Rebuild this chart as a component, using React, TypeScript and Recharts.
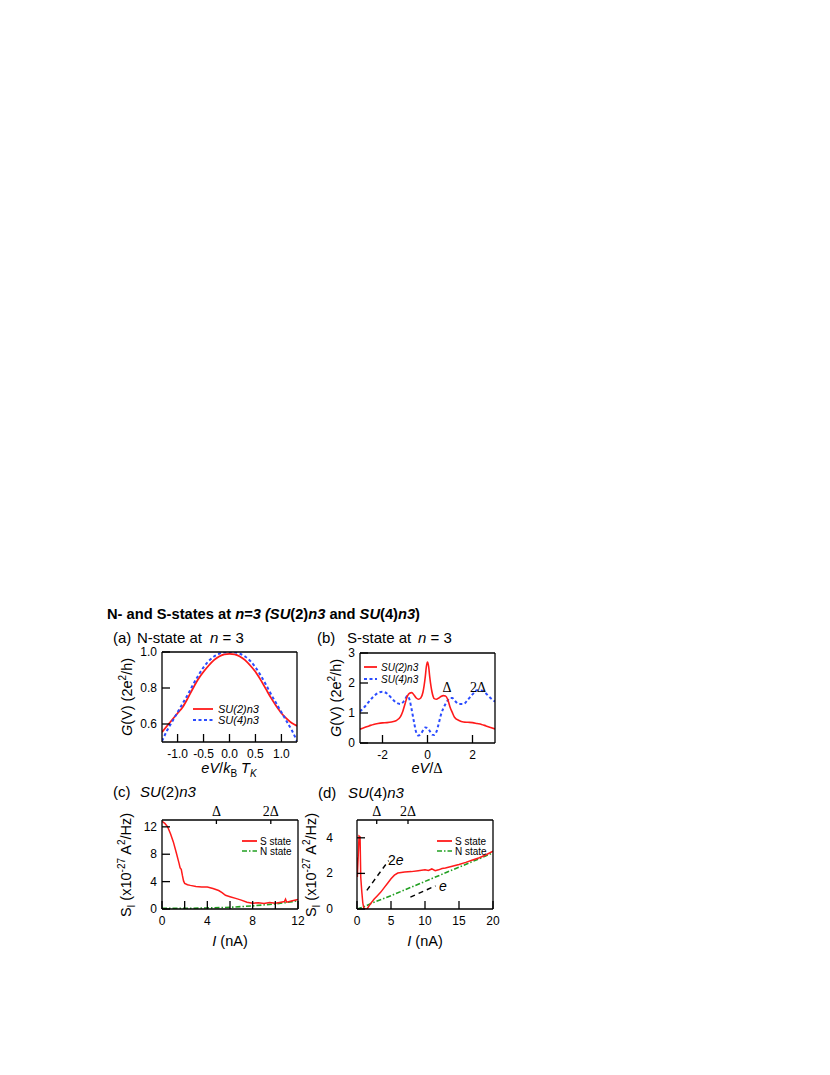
import React from 'react';
import { LineChart, Line, XAxis, YAxis } from 'recharts';

const SANS = '"Liberation Sans", Arial, Helvetica, sans-serif';
const SERIF = '"Liberation Serif", "Times New Roman", serif';

const RED = '#ff1a1a';
const BLUE = '#2b4cff';
const GREEN = '#22a022';

// (a) N-state at n = 3
const aX = [-1.3, -1.2, -1.1, -1.0, -0.9, -0.8, -0.7, -0.6, -0.5, -0.4, -0.3, -0.2, -0.1, 0, 0.1, 0.2, 0.3, 0.4, 0.5, 0.6, 0.7, 0.8, 0.9, 1.0, 1.1, 1.2, 1.3];
const aSU2 = [0.555, 0.59, 0.625, 0.66, 0.695, 0.745, 0.8, 0.85, 0.89, 0.925, 0.955, 0.975, 0.987, 0.99, 0.987, 0.975, 0.955, 0.925, 0.89, 0.845, 0.795, 0.745, 0.7, 0.66, 0.63, 0.605, 0.59];
const aSU4 = [0.505, 0.565, 0.615, 0.665, 0.715, 0.765, 0.82, 0.87, 0.915, 0.95, 0.975, 0.99, 0.998, 1.0, 0.998, 0.99, 0.975, 0.95, 0.915, 0.87, 0.82, 0.765, 0.715, 0.665, 0.615, 0.565, 0.505];

// (b) S-state at n = 3
const bRedX = [-3.0, -2.8, -2.6, -2.4, -2.2, -2.0, -1.8, -1.6, -1.4, -1.2, -1.1, -1.0, -0.9, -0.8, -0.7, -0.6, -0.5, -0.4, -0.3, -0.2, -0.1, -0.05, 0, 0.05, 0.1, 0.2, 0.3, 0.4, 0.5, 0.6, 0.7, 0.8, 0.9, 1.0, 1.1, 1.2, 1.4, 1.6, 1.8, 2.0, 2.2, 2.4, 2.6, 2.8, 3.0];
const bRed = [0.46, 0.52, 0.57, 0.62, 0.65, 0.67, 0.68, 0.7, 0.74, 0.88, 1.05, 1.3, 1.55, 1.66, 1.68, 1.6, 1.5, 1.46, 1.5, 1.7, 2.2, 2.55, 2.7, 2.55, 2.2, 1.7, 1.48, 1.46, 1.5, 1.55, 1.58, 1.57, 1.45, 1.2, 1.02, 0.86, 0.75, 0.7, 0.69, 0.68, 0.65, 0.62, 0.57, 0.52, 0.47];
const bBlueX = [-3.0, -2.8, -2.6, -2.4, -2.2, -2.0, -1.8, -1.6, -1.4, -1.2, -1.0, -0.9, -0.8, -0.7, -0.6, -0.5, -0.4, -0.3, -0.2, -0.1, 0, 0.1, 0.2, 0.3, 0.4, 0.5, 0.6, 0.7, 0.8, 0.9, 1.0, 1.1, 1.2, 1.4, 1.6, 1.8, 2.0, 2.2, 2.4, 2.6, 2.8, 3.0];
const bBlue = [1.05, 1.2, 1.38, 1.55, 1.67, 1.71, 1.65, 1.5, 1.35, 1.3, 1.45, 1.57, 1.45, 1.1, 0.7, 0.35, 0.25, 0.3, 0.42, 0.52, 0.5, 0.4, 0.28, 0.27, 0.38, 0.65, 0.95, 1.15, 1.3, 1.42, 1.5, 1.5, 1.42, 1.3, 1.3, 1.45, 1.62, 1.76, 1.75, 1.65, 1.5, 1.38];

// (c) SU(2)n3 noise
const cSX = [0, 0.25, 0.5, 0.75, 1.0, 1.25, 1.5, 1.6, 1.7, 1.8, 1.9, 2.0, 2.25, 2.5, 3.0, 3.5, 4.0, 4.5, 5.0, 5.3, 5.6, 6.0, 6.5, 7.0, 7.5, 8.0, 8.5, 9.0, 9.5, 10.0, 10.5, 10.8, 10.9, 11.0, 11.5, 12.0];
const cS = [12.8, 12.5, 12.0, 11.0, 9.8, 8.3, 6.7, 6.0, 5.8, 4.9, 4.1, 3.75, 3.55, 3.45, 3.3, 3.2, 3.2, 3.0, 2.7, 2.4, 2.0, 1.8, 1.55, 1.3, 1.0, 0.85, 0.9, 0.8, 0.95, 0.85, 1.0, 1.1, 1.45, 1.0, 1.2, 1.4];
const cNX = [0, 2, 4, 6, 8, 10, 11, 12];
const cN = [0.1, 0.1, 0.15, 0.25, 0.45, 0.75, 0.95, 1.2];

// (d) SU(4)n3 noise
const dSX = [0, 0.05, 0.3, 0.45, 0.55, 0.7, 0.85, 1.0, 1.2, 1.5, 2.0, 2.5, 3.0, 3.5, 4.0, 4.5, 5.0, 5.5, 6.0, 6.5, 7.0, 8.0, 9.0, 10.0, 10.5, 11.0, 11.5, 12.0, 12.5, 13.0, 14.0, 15.0, 16.0, 17.0, 18.0, 19.0, 20.0];
const dS = [2.9, 1.8, 4.1, 4.05, 1.8, 1.0, 0.35, 0.05, 0, 0.02, 0.3, 0.55, 0.75, 0.95, 1.2, 1.45, 1.7, 1.9, 2.02, 2.05, 2.08, 2.1, 2.15, 2.2, 2.17, 2.25, 2.15, 2.2, 2.27, 2.3, 2.4, 2.5, 2.62, 2.75, 2.88, 3.05, 3.25];
const dNX = [0, 1, 2, 5, 10, 15, 20];
const dN = [0, 0.12, 0.3, 0.75, 1.55, 2.35, 3.15];
const d2eX = [1.45, 4.65];
const d2e = [1.05, 2.72];
const deX = [7.85, 11.55];
const de = [0.67, 1.3];

// gap markers on the top axis
const cGap = [4.8, 9.6];
const dGap = [2.9, 7.5];
const gapLabels = ['Δ', '2Δ'];

const rows = (xs: number[], ys: number[]) => xs.map((x, i) => ({ x, y: ys[i] }));

const bottomTick = (fmt: (v: number) => string) => (props: any) => {
  const { x, y, payload } = props;
  const label = fmt(payload.value);
  return (
    <g>
      <line x1={x} y1={y} x2={x} y2={y - 8} stroke="#000" strokeWidth={1.3} />
      {label !== '' && (
        <text x={x} y={y + 16} textAnchor="middle" fontSize={12} fontFamily={SANS} fill="#000">
          {label}
        </text>
      )}
    </g>
  );
};

const leftTick = (fmt: (v: number) => string, gap: number) => (props: any) => {
  const { x, y, payload } = props;
  return (
    <g>
      <line x1={x} y1={y} x2={x + 8} y2={y} stroke="#000" strokeWidth={1.3} />
      <text x={x - gap} y={y + 4} textAnchor="end" fontSize={12} fontFamily={SANS} fill="#000">
        {fmt(payload.value)}
      </text>
    </g>
  );
};

const topTick = (ticks: number[]) => (props: any) => {
  const { x, y, payload } = props;
  const i = ticks.indexOf(payload.value);
  return (
    <g>
      <line x1={x} y1={y} x2={x} y2={y + 4} stroke="#000" strokeWidth={1.3} />
      <text x={x} y={y - 4} textAnchor="middle" fontSize={14} fontFamily={SERIF} fill="#000">
        {gapLabels[i]}
      </text>
    </g>
  );
};

interface PanelProps {
  left: number;
  top: number;
  margin: { top: number; right: number; left: number; bottom: number };
  yWidth: number;
  xHeight: number;
  xDomain: [number, number];
  yDomain: [number, number];
  xTicks: number[];
  yTicks: number[];
  fmtX: (v: number) => string;
  fmtY: (v: number) => string;
  yGap?: number;
  gapTicks?: number[];
  children: React.ReactNode;
}

function Panel(p: PanelProps) {
  // invisible series so the frame axes (top / right) get a domain
  const frame = [
    { x: p.xDomain[0], y: p.yDomain[0] },
    { x: p.xDomain[1], y: p.yDomain[1] },
  ];
  return (
    <div style={{ position: 'absolute', left: p.left, top: p.top }}>
      <LineChart width={210} height={150} margin={{ ...p.margin, top: p.margin.top - 1, right: p.margin.right - 1 }}>
        <XAxis
          dataKey="x"
          type="number"
          domain={p.xDomain}
          ticks={p.xTicks}
          interval={0}
          allowDataOverflow
          height={p.xHeight}
          tickSize={0}
          tickMargin={0}
          tickLine={false}
          axisLine={{ stroke: '#000', strokeWidth: 1.3 }}
          tick={bottomTick(p.fmtX)}
        />
        <XAxis
          xAxisId="top"
          orientation="top"
          dataKey="x"
          type="number"
          domain={p.xDomain}
          ticks={p.gapTicks ?? p.xDomain}
          interval={0}
          allowDataOverflow
          height={1}
          mirror
          tickSize={0}
          tickMargin={0}
          tickLine={false}
          axisLine={{ stroke: '#000', strokeWidth: 1.3 }}
          tick={p.gapTicks ? topTick(p.gapTicks) : false}
        />
        <YAxis
          type="number"
          domain={p.yDomain}
          ticks={p.yTicks}
          interval={0}
          allowDataOverflow
          width={p.yWidth}
          tickSize={0}
          tickMargin={0}
          tickLine={false}
          axisLine={{ stroke: '#000', strokeWidth: 1.3 }}
          tick={leftTick(p.fmtY, p.yGap ?? 5)}
        />
        <YAxis
          yAxisId="r"
          orientation="right"
          type="number"
          domain={p.yDomain}
          allowDataOverflow
          width={1}
          mirror
          tick={false}
          tickLine={false}
          axisLine={{ stroke: '#000', strokeWidth: 1.3 }}
        />
        <Line
          xAxisId="top"
          yAxisId="r"
          data={frame}
          dataKey="y"
          stroke="none"
          dot={false}
          activeDot={false}
          isAnimationActive={false}
        />
        {p.children}
      </LineChart>
    </div>
  );
}

const sty = { fontFamily: SANS, fill: '#000' } as const;

function Overlay() {
  return (
    <svg
      width={830}
      height={1075}
      style={{ position: 'absolute', left: 0, top: 0, pointerEvents: 'none' }}
    >
      {/* main title */}
      <text x={107} y={619} fontSize={14.7} fontWeight="bold" {...sty}>
        N- and S-states at <tspan fontStyle="italic">n=3 (SU</tspan>(2)<tspan fontStyle="italic">n3</tspan> and <tspan fontStyle="italic">SU</tspan>(4)<tspan fontStyle="italic">n3</tspan>)
      </text>

      {/* panel headers */}
      <text y={643} fontSize={15} {...sty}>
        <tspan x={113}>(a)</tspan>
        <tspan x={137}>N-state at</tspan>
        <tspan x={210} fontStyle="italic">n</tspan>
        <tspan> = 3</tspan>
      </text>
      <text y={643} fontSize={15} {...sty}>
        <tspan x={317}>(b)</tspan>
        <tspan x={347}>S-state at</tspan>
        <tspan x={418} fontStyle="italic">n</tspan>
        <tspan> = 3</tspan>
      </text>
      <text y={797} fontSize={15} {...sty}>
        <tspan x={113}>(c)</tspan>
        <tspan x={140} fontStyle="italic">SU</tspan>
        <tspan>(2)</tspan>
        <tspan fontStyle="italic">n3</tspan>
      </text>
      <text y={798} fontSize={15} {...sty}>
        <tspan x={318}>(d)</tspan>
        <tspan x={348} fontStyle="italic">SU</tspan>
        <tspan>(4)</tspan>
        <tspan fontStyle="italic">n3</tspan>
      </text>

      {/* y axis titles */}
      <text transform="translate(132,697) rotate(-90)" textAnchor="middle" fontSize={14.5} {...sty}>
        <tspan fontStyle="italic">G</tspan>(V) (2e<tspan dy={-6} fontSize={10}>2</tspan><tspan dy={6}>/h)</tspan>
      </text>
      <text transform="translate(341,698) rotate(-90)" textAnchor="middle" fontSize={14.5} {...sty}>
        <tspan fontStyle="italic">G</tspan>(V) (2e<tspan dy={-6} fontSize={10}>2</tspan><tspan dy={6}>/h)</tspan>
      </text>
      <text transform="translate(131,865) rotate(-90)" textAnchor="middle" fontSize={14.5} {...sty}>
        S<tspan dy={4} fontSize={10}>I</tspan><tspan dy={-4}> (x10</tspan><tspan dy={-6} fontSize={10}>-27</tspan><tspan dy={6}> A</tspan><tspan dy={-6} fontSize={10}>2</tspan><tspan dy={6}>/Hz)</tspan>
      </text>
      <text transform="translate(316,865) rotate(-90)" textAnchor="middle" fontSize={14.5} {...sty}>
        S<tspan dy={4} fontSize={10}>I</tspan><tspan dy={-4}> (x10</tspan><tspan dy={-6} fontSize={10}>-27</tspan><tspan dy={6}> A</tspan><tspan dy={-6} fontSize={10}>2</tspan><tspan dy={6}>/Hz)</tspan>
      </text>

      {/* x axis titles */}
      <text x={229} y={773} textAnchor="middle" fontSize={14.5} {...sty}>
        <tspan fontStyle="italic">eV</tspan>/<tspan fontStyle="italic">k</tspan><tspan dy={4} fontSize={10}>B</tspan><tspan dy={-4}> </tspan><tspan fontStyle="italic">T</tspan><tspan dy={4} fontSize={10} fontStyle="italic">K</tspan>
      </text>
      <text x={427} y={773} textAnchor="middle" fontSize={14.5} {...sty}>
        <tspan fontStyle="italic">eV</tspan>/<tspan fontFamily={SERIF}>Δ</tspan>
      </text>
      <text x={230} y={946} textAnchor="middle" fontSize={14.5} {...sty}>
        <tspan fontStyle="italic">I</tspan> (nA)
      </text>
      <text x={425} y={946} textAnchor="middle" fontSize={14.5} {...sty}>
        <tspan fontStyle="italic">I</tspan> (nA)
      </text>

      {/* legend (a) */}
      <line x1={193} y1={709} x2={213} y2={709} stroke={RED} strokeWidth={1.8} />
      <text x={218} y={713} fontSize={11} fontStyle="italic" {...sty}>SU(2)n3</text>
      <line x1={193} y1={720} x2={213} y2={720} stroke={BLUE} strokeWidth={2} strokeDasharray="3 2.5" />
      <text x={218} y={724} fontSize={11} fontStyle="italic" {...sty}>SU(4)n3</text>

      {/* legend (b) */}
      <line x1={364} y1={667} x2={377} y2={667} stroke={RED} strokeWidth={1.8} />
      <text x={381} y={671} fontSize={10} fontStyle="italic" {...sty}>SU(2)n3</text>
      <line x1={364} y1={679} x2={377} y2={679} stroke={BLUE} strokeWidth={2} strokeDasharray="3 2.5" />
      <text x={381} y={683} fontSize={10} fontStyle="italic" {...sty}>SU(4)n3</text>
      <text x={447} y={692} textAnchor="middle" fontSize={14} fontFamily={SERIF}>Δ</text>
      <text x={478} y={692} textAnchor="middle" fontSize={14} fontFamily={SERIF}>2Δ</text>

      {/* legend (c) */}
      <line x1={242} y1={841} x2={257} y2={841} stroke={RED} strokeWidth={1.8} />
      <text x={260} y={844.5} fontSize={10} {...sty}>S state</text>
      <line x1={242} y1={851} x2={257} y2={851} stroke={GREEN} strokeWidth={1.6} strokeDasharray="5 2 1.5 2" />
      <text x={260} y={854.5} fontSize={10} {...sty}>N state</text>

      {/* legend (d) */}
      <line x1={437} y1={841} x2={452} y2={841} stroke={RED} strokeWidth={1.8} />
      <text x={455} y={844.5} fontSize={10} {...sty}>S state</text>
      <line x1={437} y1={851} x2={452} y2={851} stroke={GREEN} strokeWidth={1.6} strokeDasharray="5 2 1.5 2" />
      <text x={455} y={854.5} fontSize={10} {...sty}>N state</text>
      <text x={388} y={865} fontSize={14} {...sty}>
        2<tspan fontStyle="italic">e</tspan>
      </text>
      <text x={439} y={891} fontSize={14} fontStyle="italic" {...sty}>e</text>
    </svg>
  );
}

export default function App() {
  return (
    <div style={{ position: 'absolute', left: 0, top: 0, width: 830, height: 1075, background: '#fff' }}>
      <Panel
        left={100}
        top={640}
        margin={{ top: 13, right: 14, left: 0, bottom: 0 }}
        yWidth={62}
        xHeight={48}
        xDomain={[-1.3, 1.3]}
        yDomain={[0.5, 1.0]}
        xTicks={[-1, -0.5, 0, 0.5, 1]}
        yTicks={[0.6, 0.8, 1.0]}
        fmtX={(v) => v.toFixed(1)}
        fmtY={(v) => v.toFixed(1)}
      >
        <Line data={rows(aX, aSU2)} dataKey="y" type="monotone" stroke={RED} strokeWidth={1.8} dot={false} isAnimationActive={false} />
        <Line data={rows(aX, aSU4)} dataKey="y" type="monotone" stroke={BLUE} strokeWidth={2} strokeDasharray="3 2.5" dot={false} isAnimationActive={false} />
      </Panel>

      <Panel
        left={300}
        top={640}
        margin={{ top: 14, right: 16, left: 0, bottom: 0 }}
        yWidth={60}
        xHeight={47}
        xDomain={[-3, 3]}
        yDomain={[0, 3]}
        xTicks={[-2, 0, 2]}
        yTicks={[0, 1, 2, 3]}
        fmtX={(v) => String(v)}
        fmtY={(v) => String(v)}
      >
        <Line data={rows(bBlueX, bBlue)} dataKey="y" type="monotone" stroke={BLUE} strokeWidth={2} strokeDasharray="3 2.5" dot={false} isAnimationActive={false} />
        <Line data={rows(bRedX, bRed)} dataKey="y" type="monotone" stroke={RED} strokeWidth={1.6} dot={false} isAnimationActive={false} />
      </Panel>

      <Panel
        left={100}
        top={800}
        margin={{ top: 21, right: 13, left: 0, bottom: 0 }}
        yWidth={62}
        xHeight={41}
        xDomain={[0, 12]}
        yDomain={[0, 13]}
        xTicks={[0, 2, 4, 6, 8, 10, 12]}
        yTicks={[0, 4, 8, 12]}
        fmtX={(v) => (v % 4 === 0 ? String(v) : '')}
        fmtY={(v) => String(v)}
        gapTicks={cGap}
      >
        <Line data={rows(cNX, cN)} dataKey="y" type="linear" stroke={GREEN} strokeWidth={1.6} strokeDasharray="5 2 1.5 2" dot={false} isAnimationActive={false} />
        <Line data={rows(cSX, cS)} dataKey="y" type="linear" stroke={RED} strokeWidth={1.5} dot={false} isAnimationActive={false} />
      </Panel>

      <Panel
        left={300}
        top={800}
        margin={{ top: 21, right: 18, left: 0, bottom: 0 }}
        yWidth={57}
        xHeight={41}
        xDomain={[0, 20]}
        yDomain={[0, 5]}
        xTicks={[0, 5, 10, 15, 20]}
        yTicks={[0, 2, 4]}
        fmtX={(v) => String(v)}
        fmtY={(v) => String(v)}
        yGap={24}
        gapTicks={dGap}
      >
        <Line data={rows(d2eX, d2e)} dataKey="y" type="linear" stroke="#000" strokeWidth={1.4} strokeDasharray="5 4" dot={false} isAnimationActive={false} />
        <Line data={rows(deX, de)} dataKey="y" type="linear" stroke="#000" strokeWidth={1.4} strokeDasharray="5 4" dot={false} isAnimationActive={false} />
        <Line data={rows(dNX, dN)} dataKey="y" type="linear" stroke={GREEN} strokeWidth={1.6} strokeDasharray="5 2 1.5 2" dot={false} isAnimationActive={false} />
        <Line data={rows(dSX, dS)} dataKey="y" type="linear" stroke={RED} strokeWidth={1.5} dot={false} isAnimationActive={false} />
      </Panel>

      <Overlay />
    </div>
  );
}
